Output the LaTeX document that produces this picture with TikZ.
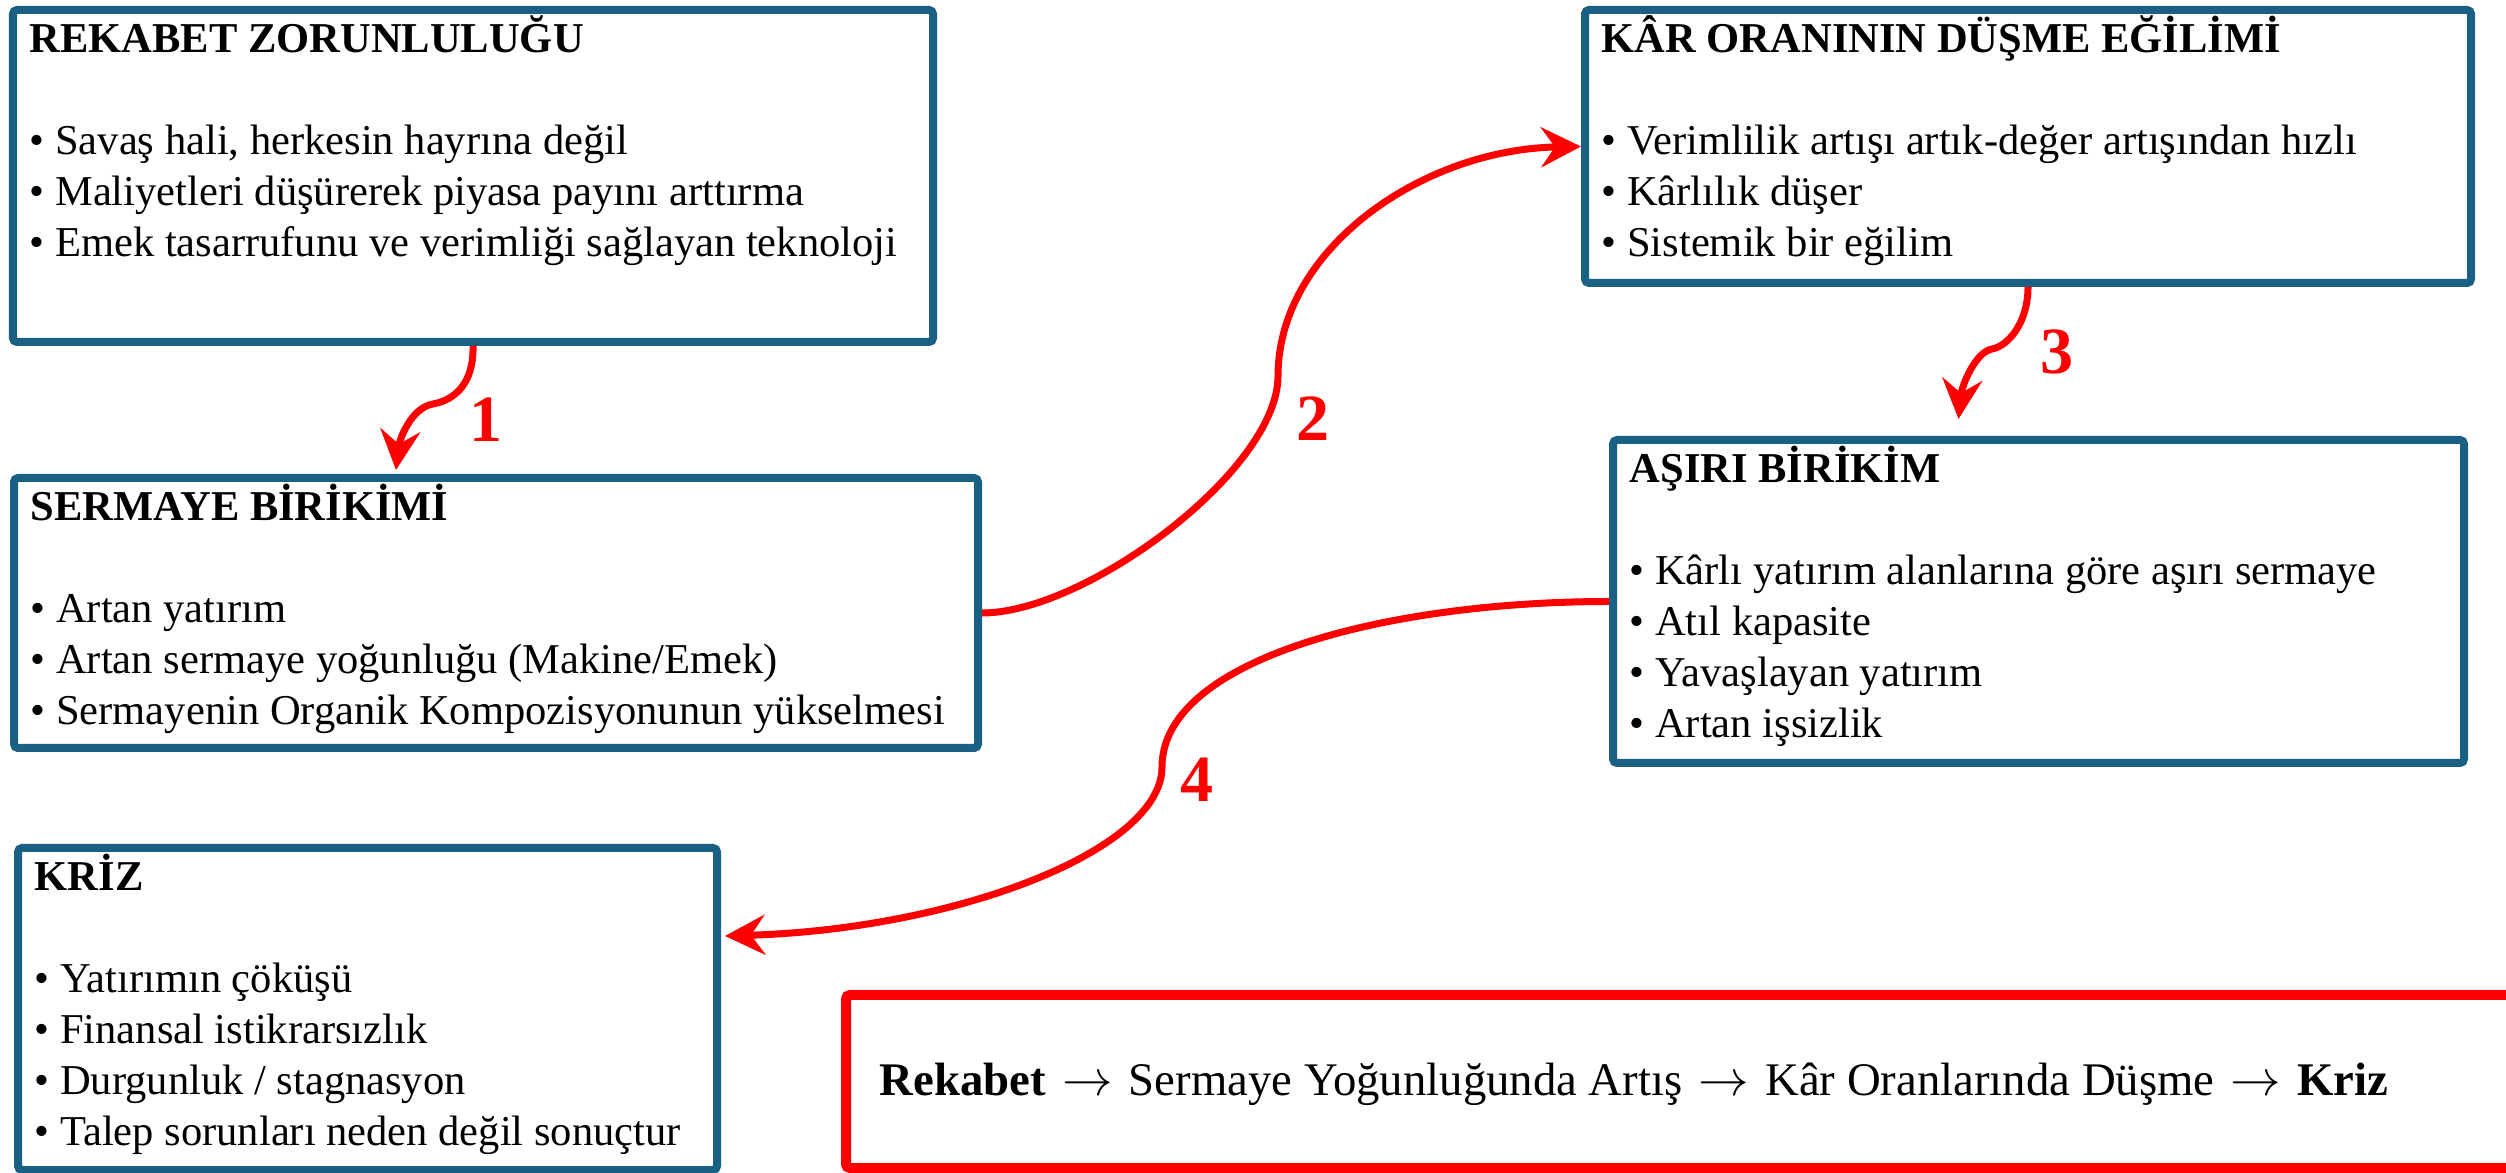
\documentclass[tikz,border=0pt]{standalone}
\usepackage{fontspec}
\setmainfont{Liberation Serif}
\usepackage{xcolor}
\usepackage{tikz}
\usetikzlibrary{arrows.meta}
\definecolor{framecolor}{RGB}{26,96,130}
\definecolor{arrowcolor}{RGB}{255,0,0}
\newcommand{\flowarrow}{\hspace{0.045cm}$\rightarrow$\hspace{0.045cm}}

\tikzset{
    panel/.style={draw=framecolor, line width=0.08cm, rounded corners=0.04cm, anchor=north west, inner sep=0pt},
    paneltext/.style={anchor=base west, inner sep=0pt, font=\fontsize{12.1}{14.5}\selectfont},
    summary/.style={draw=arrowcolor, line width=0.10cm, rounded corners=0.04cm, anchor=north west, inner sep=0pt},
    flow/.style={draw=arrowcolor, line width=0.07cm, -{Stealth[length=0.40cm, width=0.40cm, inset=0.14cm]}},
    steplabel/.style={text=arrowcolor, inner sep=0pt, font=\fontsize{18.8}{20}\selectfont\bfseries},
}

\begin{document}
\begin{tikzpicture}
    \useasboundingbox (0,0) rectangle (25.06,11.72);
    \clip (0,0) rectangle (25.06,11.72);

    \node[panel, minimum width=9.20cm, minimum height=3.32cm] (rekabet) at (0.09,11.66) {};
    \node[paneltext] (rekabettext) at ([shift={(0.20,-0.47)}]rekabet.north west) {\parbox[t]{10cm}{%
        \textbf{REKABET ZORUNLULUĞU}\\[0.51cm]
        • Savaş hali, herkesin hayrına değil\\
        • Maliyetleri düşürerek piyasa payını arttırma\\
        • Emek tasarrufunu ve verimliği sağlayan teknoloji}};

    \node[panel, minimum width=9.64cm, minimum height=2.70cm] (sermaye) at (0.10,6.98) {};
    \node[paneltext] (sermayetext) at ([shift={(0.20,-0.47)}]sermaye.north west) {\parbox[t]{10cm}{%
        \textbf{SERMAYE BİRİKİMİ}\\[0.51cm]
        • Artan yatırım\\
        • Artan sermaye yoğunluğu (Makine/Emek)\\
        • Sermayenin Organik Kompozisyonunun yükselmesi}};

    \node[panel, minimum width=8.86cm, minimum height=2.73cm] (kar) at (15.81,11.66) {};
    \node[paneltext] (kartext) at ([shift={(0.20,-0.47)}]kar.north west) {\parbox[t]{10cm}{%
        \textbf{KÂR ORANININ DÜŞME EĞİLİMİ}\\[0.51cm]
        • Verimlilik artışı artık-değer artışından hızlı\\
        • Kârlılık düşer\\
        • Sistemik bir eğilim}};

    \node[panel, minimum width=8.51cm, minimum height=3.23cm] (asiri) at (16.09,7.36) {};
    \node[paneltext] (asiritext) at ([shift={(0.20,-0.47)}]asiri.north west) {\parbox[t]{10cm}{%
        \textbf{AŞIRI BİRİKİM}\\[0.51cm]
        • Kârlı yatırım alanlarına göre aşırı sermaye\\
        • Atıl kapasite\\
        • Yavaşlayan yatırım\\
        • Artan işsizlik}};

    \node[panel, minimum width=6.99cm, minimum height=3.22cm] (kriz) at (0.14,3.28) {};
    \node[paneltext] (kriztext) at ([shift={(0.20,-0.47)}]kriz.north west) {\parbox[t]{10cm}{%
        \textbf{KRİZ}\\[0.51cm]
        • Yatırımın çöküşü\\
        • Finansal istikrarsızlık\\
        • Durgunluk / stagnasyon\\
        • Talep sorunları neden değil sonuçtur}};

    \node[summary, minimum width=17.5cm, minimum height=1.73cm] (ozet) at (8.41,1.82) {};
    \node[anchor=base west, inner sep=0pt, font=\fontsize{13.3}{16}\selectfont] (ozettext) at ([shift={(0.38,-1.05)}]ozet.north west)
        {\textbf{Rekabet} \flowarrow{} Sermaye Yoğunluğunda Artış \flowarrow{} Kâr Oranlarında Düşme \flowarrow{} \textbf{Kriz}};

    \coordinate (kink1) at (4.33,7.68);
    \coordinate (bend2) at (12.78,7.96);
    \coordinate (kink3) at (19.92,8.23);
    \coordinate (bend4) at (11.62,4.05);

    \draw[flow] (rekabet.south) .. controls +(0.01,-0.37) and +(0.22,0.04) .. (kink1)
        .. controls +(-0.23,-0.04) and +(0.03,0.28) .. ([shift={(-1.00,0.04)}]sermaye.north);
    \draw[flow] (sermaye.east) .. controls +(1.04,0) and +(0,-0.94) .. (bend2)
        .. controls +(0,1.26) and +(-1.60,-0.03) .. (kar.west);
    \draw[flow] (kar.south) .. controls +(0,-0.36) and +(0.16,0.03) .. (kink3)
        .. controls +(-0.17,-0.03) and +(0.03,0.32) .. ([shift={(-0.80,0.17)}]asiri.north);
    \draw[flow] (asiri.west) .. controls +(-2.25,0) and +(0,1.07) .. (bend4)
        .. controls +(0,-0.83) and +(2.32,0.07) .. ([shift={(0.04,0.73)}]kriz.east);

    \node[steplabel] (num1) at (4.86,7.52) {1};
    \node[steplabel] (num2) at (13.13,7.53) {2};
    \node[steplabel] (num3) at (20.57,8.20) {3};
    \node[steplabel] (num4) at (11.97,3.92) {4};
\end{tikzpicture}
\end{document}
